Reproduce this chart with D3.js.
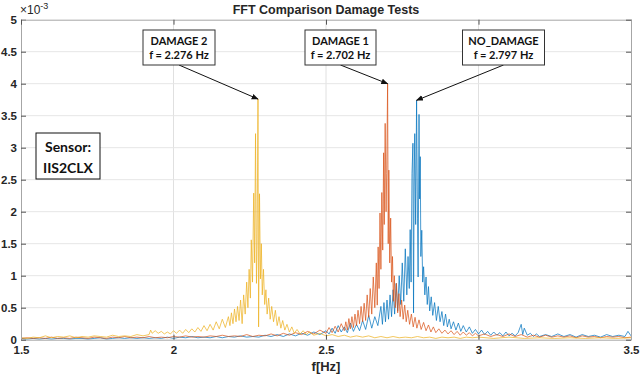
<!DOCTYPE html>
<html>
<head>
<meta charset="utf-8">
<script src="https://cdn.jsdelivr.net/npm/d3@7"></script>
<style>
  body { margin: 0; background: #fff; }
  svg text { font-family: "Liberation Sans", Arial, sans-serif; fill: #262626; }
  .note text { font-family: Lato, "Open Sans", sans-serif; fill: #111; }
</style>
</head>
<body>
<div id="chart"></div>
<script>
// amplitudes are in units of 1e-3 (axis shows x10^-3)
var noDamageF = [1.50,1.52,1.54,1.56,1.58,1.60,1.62,1.64,1.66,1.68,1.70,1.72,1.74,1.76,1.78,1.80,1.82,1.84,1.86,1.88,1.90,1.92,1.94,1.96,1.98,2.00,
  2.02,2.04,2.06,2.08,2.10,2.12,2.14,2.16,2.18,2.20,2.22,2.24,2.26,2.28,2.30,2.32,2.34,2.36,2.38,2.40,2.42,2.44,2.46,2.48,2.50,
  2.51,2.52,2.53,2.54,2.55,2.56,2.57,2.58,2.59,2.60,2.61,2.62,2.63,2.64,2.65,2.66,2.67,2.68,2.685,2.69,2.695,2.70,2.705,2.71,2.715,2.72,2.725,2.73,2.735,2.74,2.745,2.75,2.755,2.76,2.765,2.769,2.773,2.776,2.779,2.782,2.785,2.787,2.789,2.791,2.794,2.797,2.800,2.802,2.805,2.807,2.809,2.811,2.814,2.817,2.820,2.824,2.828,2.832,2.836,2.84,2.845,2.85,2.856,2.862,2.868,2.874,2.88,2.886,2.892,2.898,2.904,2.91,2.918,2.926,2.934,2.942,2.95,2.96,2.97,2.98,2.99,3.00,
  3.01,3.02,3.03,3.04,3.05,3.06,3.07,3.08,3.09,3.10,3.11,3.12,3.13,3.14,3.145,3.15,3.16,3.17,3.18,3.19,3.20,3.22,3.24,3.26,3.28,3.30,3.32,3.34,3.36,3.38,3.40,3.42,3.44,3.46,3.48,3.49,3.50];
var noDamageA = [.02,.01,.02,.01,.02,.01,.02,.02,.01,.02,.02,.01,.02,.03,.01,.02,.03,.02,.03,.02,.03,.02,.03,.02,.04,.02,
  .04,.03,.05,.03,.04,.03,.05,.03,.05,.04,.06,.04,.05,.04,.07,.05,.08,.05,.09,.06,.10,.07,.12,.08,.14,
  .09,.18,.10,.22,.12,.20,.11,.26,.13,.24,.14,.30,.16,.38,.18,.36,.22,.52,.24,.58,.28,.62,.32,.70,.36,.78,.40,.88,.45,1.0,.55,1.2,.60,1.42,.70,1.3,.80,1.72,.90,2.6,3.07,.42,2.4,3.22,1.8,3.74,1.9,.98,3.52,2.2,2.86,1.3,1.71,.9,1.14,.70,.98,.55,.83,.45,.67,.38,.58,.30,.52,.28,.44,.22,.40,.20,.32,.17,.28,.15,.26,.13,.22,.12,.20,.10,.16,.09,
  .15,.08,.13,.07,.12,.07,.11,.06,.12,.06,.10,.06,.11,.24,.08,.18,.07,.10,.05,.09,.05,.08,.05,.09,.05,.08,.04,.08,.05,.07,.04,.08,.05,.07,.05,.13,.06];

var damage1F = [1.50,1.52,1.54,1.56,1.58,1.60,1.62,1.64,1.66,1.68,1.70,1.72,1.74,1.76,1.78,1.80,1.82,1.84,1.86,1.88,1.90,1.92,1.94,1.96,1.98,2.00,
  2.02,2.04,2.06,2.08,2.10,2.12,2.14,2.16,2.18,2.20,2.22,2.24,2.26,2.28,2.30,2.32,2.34,2.36,2.38,2.40,2.42,2.44,2.46,2.48,2.50,
  2.51,2.52,2.53,2.54,2.55,2.56,2.565,2.57,2.575,2.58,2.585,2.59,2.595,2.60,2.605,2.61,2.615,2.62,2.625,2.63,2.635,2.64,2.645,2.65,2.655,2.66,2.665,2.668,2.671,2.674,2.677,2.68,2.683,2.686,2.689,2.691,2.694,2.697,2.699,2.702,2.704,2.706,2.709,2.712,2.715,2.718,2.721,2.724,2.727,2.731,2.735,2.739,2.743,2.748,2.753,2.758,2.763,2.768,2.774,2.78,2.786,2.792,2.798,2.805,2.812,2.82,2.828,2.836,2.844,2.852,2.86,2.87,2.88,2.89,2.90,2.91,2.92,2.93,2.94,2.95,2.96,2.97,2.98,2.99,3.00,
  3.02,3.04,3.06,3.08,3.10,3.12,3.14,3.16,3.18,3.20,3.22,3.24,3.26,3.28,3.30,3.32,3.34,3.36,3.38,3.40,3.42,3.44,3.46,3.48,3.50];
var damage1A = [.02,.03,.02,.03,.02,.04,.02,.03,.02,.04,.03,.02,.04,.03,.02,.04,.03,.05,.03,.04,.03,.05,.03,.04,.03,.05,
  .04,.06,.04,.05,.04,.06,.05,.07,.05,.06,.05,.08,.05,.07,.06,.09,.06,.10,.07,.11,.08,.13,.09,.15,.10,
  .19,.11,.21,.12,.25,.14,.28,.15,.33,.17,.36,.19,.40,.22,.46,.25,.52,.28,.57,.30,.70,.35,.80,.40,.98,.50,1.2,.54,1.45,.80,1.98,1.1,2.3,1.4,2.92,1.8,3.38,2.0,2.6,4.0,1.5,2.65,1.2,1.9,.90,1.3,.60,1.0,.50,.88,.42,.72,.36,.62,.32,.54,.28,.46,.24,.40,.20,.35,.18,.31,.16,.27,.14,.23,.12,.20,.11,.17,.10,.15,.09,.14,.08,.13,.07,.12,.07,.11,.06,.10,.06,
  .09,.05,.08,.05,.09,.05,.08,.04,.07,.04,.07,.04,.06,.04,.06,.03,.06,.04,.05,.03,.05,.04,.05,.03,.04];

var damage2F = [1.50,1.52,1.54,1.56,1.58,1.60,1.62,1.64,1.66,1.68,1.70,1.72,1.74,1.76,1.78,1.80,1.82,1.84,1.86,1.88,1.90,1.92,1.925,1.93,1.94,1.95,1.96,1.97,1.98,1.99,2.00,
  2.01,2.02,2.03,2.04,2.05,2.06,2.07,2.08,2.09,2.10,2.11,2.12,2.13,2.14,2.15,2.16,2.17,2.18,2.185,2.19,2.195,2.20,2.205,2.21,2.215,2.22,2.225,2.23,2.235,2.24,2.244,2.248,2.252,2.255,2.259,2.263,2.266,2.269,2.272,2.274,2.277,2.279,2.282,2.285,2.288,2.291,2.295,2.299,2.303,2.307,2.312,2.317,2.322,2.328,2.334,2.34,2.346,2.352,2.358,2.365,2.372,2.38,2.388,2.396,2.405,2.415,2.425,2.435,2.445,2.46,2.48,2.50,
  2.52,2.54,2.56,2.58,2.60,2.62,2.64,2.66,2.68,2.70,2.72,2.74,2.76,2.78,2.80,2.82,2.84,2.86,2.88,2.90,2.92,2.94,2.96,2.98,3.00,3.05,3.10,3.15,3.20,3.25,3.30,3.35,3.40,3.45,3.50];
var damage2A = [.03,.02,.04,.03,.06,.03,.05,.04,.06,.03,.05,.04,.06,.05,.04,.07,.05,.06,.05,.08,.06,.08,.15,.10,.14,.10,.13,.09,.12,.09,.14,
  .10,.15,.10,.16,.11,.17,.12,.19,.13,.22,.14,.24,.15,.28,.17,.32,.19,.36,.22,.42,.25,.48,.28,.52,.30,.62,.25,.70,.40,.90,.50,1.1,.65,1.56,.90,2.29,1.2,3.22,.88,1.5,3.76,.20,2.28,.95,1.5,.70,1.1,.55,.78,.40,.65,.32,.52,.28,.46,.22,.36,.18,.30,.15,.24,.12,.20,.10,.16,.09,.14,.08,.12,.07,.10,.06,
  .08,.05,.07,.04,.06,.04,.06,.03,.05,.03,.05,.03,.04,.03,.05,.03,.04,.02,.04,.03,.04,.02,.04,.03,.04,.02,.04,.02,.03,.02,.03,.02,.03,.02,.03];

var seriesNames = ["NO_DAMAGE", "DAMAGE 1", "DAMAGE 2"];
var seriesColors = ["#0072BD", "#D95319", "#EDB120"];
var peakLabels = ["f = 2.797 Hz", "f = 2.702 Hz", "f = 2.276 Hz"];
var xTicks = [1.5, 2, 2.5, 3, 3.5];
var yTicks = [0, 0.5, 1, 1.5, 2, 2.5, 3, 3.5, 4, 4.5, 5];

var W = 640, H = 379;
var plotL = 21, plotR = 631, plotT = 19.7, plotB = 339.7;

var svg = d3.select("#chart").append("svg")
    .attr("width", W).attr("height", H);

var x = d3.scaleLinear().domain([1.5, 3.5]).range([plotL, plotR]);
var y = d3.scaleLinear().domain([0, 5]).range([plotB, plotT]);

// grid
svg.append("g").selectAll("line").data(xTicks.slice(1, -1)).join("line")
    .attr("x1", d => x(d)).attr("x2", d => x(d)).attr("y1", plotT).attr("y2", plotB)
    .attr("stroke", "#e0e0e0").attr("stroke-width", 1);
svg.append("g").selectAll("line").data(yTicks.slice(1, -1)).join("line")
    .attr("y1", d => y(d)).attr("y2", d => y(d)).attr("x1", plotL).attr("x2", plotR)
    .attr("stroke", "#e6e6e6").attr("stroke-width", 1);

// series
var data = [
  d3.zip(noDamageF, noDamageA),
  d3.zip(damage1F, damage1A),
  d3.zip(damage2F, damage2A)
];
var line = d3.line().x(d => x(d[0])).y(d => y(d[1]));
svg.append("g").selectAll("path").data(data).join("path")
    .attr("d", line)
    .attr("fill", "none")
    .attr("stroke", (d, i) => seriesColors[i])
    .attr("stroke-width", 0.9)
    .attr("stroke-opacity", 0.8);

// axes (box with inward ticks)
svg.append("g").attr("transform", "translate(0," + plotB + ")")
    .call(d3.axisBottom(x).tickValues(xTicks).tickFormat(d3.format("")).tickSizeInner(-5).tickSizeOuter(0).tickPadding(6));
svg.append("g").attr("transform", "translate(" + plotL + ",0)")
    .call(d3.axisLeft(y).tickValues(yTicks).tickFormat(d3.format("")).tickSizeInner(-5).tickSizeOuter(0).tickPadding(4));
svg.append("g").attr("transform", "translate(0," + plotT + ")")
    .call(d3.axisTop(x).tickValues(xTicks).tickFormat("").tickSizeInner(-5).tickSizeOuter(0));
svg.append("g").attr("transform", "translate(" + plotR + ",0)")
    .call(d3.axisRight(y).tickValues(yTicks).tickFormat("").tickSizeInner(-5).tickSizeOuter(0));
svg.selectAll(".domain").attr("stroke", "#a6a6a6");
svg.selectAll(".tick line").attr("stroke", "#555");
svg.selectAll(".tick text").attr("font-size", 11.5).attr("font-weight", "bold")
    .attr("font-family", "'Liberation Sans', Arial, sans-serif").attr("fill", "#262626");

// exponent
var ex = svg.append("text").attr("x", plotL - 1).attr("y", 14).attr("font-size", 12);
ex.append("tspan").text("\u00d710");
ex.append("tspan").attr("dy", -5).attr("font-size", 9).text("-3");

// title and label
svg.append("text").attr("x", (plotL + plotR) / 2).attr("y", 14)
    .attr("text-anchor", "middle").attr("font-size", 12.5).attr("font-weight", "bold")
    .text("FFT Comparison Damage Tests");
svg.append("text").attr("x", (plotL + plotR) / 2).attr("y", 371)
    .attr("text-anchor", "middle").attr("font-size", 13).attr("font-weight", "bold")
    .text("f[Hz]");

// arrow marker
svg.append("defs").append("marker")
    .attr("id", "arr").attr("viewBox", "0 0 10 10").attr("refX", 9).attr("refY", 5)
    .attr("markerWidth", 7).attr("markerHeight", 7).attr("orient", "auto")
  .append("path").attr("d", "M0,1 L10,5 L0,9 z").attr("fill", "#111");

// peak annotations
var boxCx = [503.5, 340.5, 179];
var boxW = [82, 71, 72];
data.forEach(function (s, i) {
  var pk = s[d3.maxIndex(s, d => d[1])];
  var g = svg.append("g").attr("class", "note");
  g.append("line")
      .attr("x1", boxCx[i]).attr("y1", 65)
      .attr("x2", x(pk[0])).attr("y2", y(pk[1]))
      .attr("stroke", "#111").attr("stroke-width", 1)
      .attr("marker-end", "url(#arr)");
  g.append("rect")
      .attr("x", boxCx[i] - boxW[i] / 2).attr("y", 30)
      .attr("width", boxW[i]).attr("height", 35)
      .attr("fill", "#fff").attr("stroke", "#333").attr("stroke-width", 1);
  g.append("text").attr("x", boxCx[i]).attr("y", 45).attr("text-anchor", "middle")
      .attr("font-size", 11).attr("font-weight", "bold").text(seriesNames[i]);
  g.append("text").attr("x", boxCx[i]).attr("y", 59).attr("text-anchor", "middle")
      .attr("font-size", 11).attr("font-weight", "bold").text(peakLabels[i]);
});

// sensor box
var sg = svg.append("g").attr("class", "note");
sg.append("rect").attr("x", 36).attr("y", 133).attr("width", 64).attr("height", 46)
    .attr("fill", "#fff").attr("stroke", "#111").attr("stroke-width", 1);
sg.append("text").attr("x", 68).attr("y", 152).attr("text-anchor", "middle")
    .attr("font-size", 14).attr("font-weight", "bold").text("Sensor:");
sg.append("text").attr("x", 68).attr("y", 173).attr("text-anchor", "middle")
    .attr("font-size", 14).attr("font-weight", "bold").text("IIS2CLX");
</script>
</body>
</html>
